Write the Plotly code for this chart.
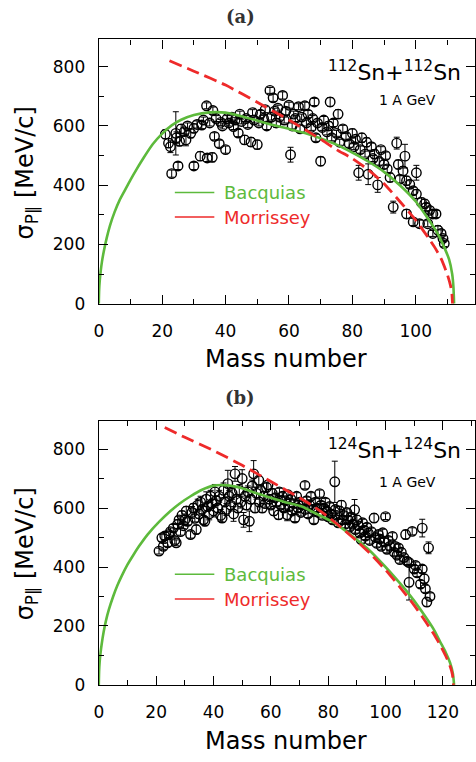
import plotly.graph_objects as go

W, H = 476, 762

# ---------------- Panel (a) : 112Sn + 112Sn ----------------
mass_a = [21, 22, 22.6, 23, 24.3, 24.5, 25, 25.5, 26, 27, 27.5, 28, 29, 30, 30, 31, 32, 32.5, 33, 34,
          34.2, 35, 35.8, 36, 36.5, 37, 38, 38.5, 39, 40, 40.5, 41, 42, 42.5, 43, 44, 44.5, 45, 46, 46.5,
          47, 48, 48.5, 49, 50, 50.5, 51, 52, 52.5, 53, 54, 54.5, 55, 55.5, 56, 56.5, 57, 58, 58.5, 59,
          60, 60.5, 61, 61.5, 62, 63, 63.5, 64, 65, 65.5, 66, 67, 67.5, 68, 68.5, 69, 70, 70.5, 71, 72,
          72.5, 73, 73.5, 74, 75, 75.5, 76, 77, 78, 79, 80, 80.5, 81, 82, 82.5, 83, 84, 84.5, 85, 86,
          86.5, 87, 88, 88.5, 89, 90, 90.5, 91, 91.9, 92.9, 94, 94.5, 95, 96, 96.6, 97.1, 97.1, 98.1,
          99.2, 99.2, 100.2, 100.2, 101.2, 101.8, 102.8, 103.3, 103.8, 104.4, 105.4, 105.4, 106.4, 107,
          108, 108.6, 109]
sigma_a = [572, 542, 530, 439, 575, 560, 465, 548, 590, 581, 553, 600, 575, 465, 592, 605, 498, 603, 620, 668,
           492, 610, 494, 652, 565, 625, 540, 612, 600, 520, 625, 610, 630, 598, 620, 576, 640, 615, 553, 625,
           605, 546, 645, 620, 537, 610, 640, 625, 655, 600, 720, 630, 695, 650, 610, 660, 630, 703, 620, 650,
           670, 503, 600, 640, 625, 665, 590, 630, 668, 610, 640, 595, 625, 681, 560, 610, 481, 595, 620, 580,
           600, 681, 560, 610, 575, 640, 545, 590, 565, 540, 575, 530, 555, 442, 520, 560, 505, 545, 437, 530,
           490, 505, 401, 480, 520, 470, 500, 455, 426, 326, 542, 470, 420, 448, 498, 415, 303, 403,
           381, 276, 370, 442, 270, 342, 337, 326, 270, 315, 303, 237, 303, 248,
           237, 220, 203]
err_a = [15, 15, 20, 12, 73, 20, 12, 15, 15, 12, 20, 10, 15, 12, 15, 12, 15, 12, 10, 10,
         12, 10, 15, 12, 12, 10, 12, 10, 10, 12, 10, 10, 10, 10, 8, 12, 10, 8, 15, 10,
         10, 15, 10, 10, 15, 10, 12, 10, 10, 12, 10, 10, 12, 10, 15, 10, 10, 12, 10, 12,
         10, 25, 10, 10, 10, 10, 12, 10, 12, 10, 12, 10, 10, 12, 12, 10, 15, 10, 12, 10,
         15, 15, 10, 12, 10, 15, 10, 12, 10, 12, 15, 10, 10, 25, 12, 15, 10, 15, 35, 12,
         10, 15, 25, 12, 10, 15, 12, 12, 15, 20, 20, 15, 12, 15, 40, 15, 15, 12,
         12, 12, 15, 25, 12, 15, 15, 12, 10, 12, 12, 10, 12, 15,
         12, 10, 10]

bacq_a_mass = [0, 0.1, 0.3, 0.6, 1, 1.6, 2.5, 3.5, 5, 6.5, 8, 10, 12, 14, 17, 20, 23, 26, 30, 35, 40,
               45, 50, 55, 60, 65, 70, 75, 80, 85, 90, 95, 100, 104, 107, 109, 110.5, 111.5, 111.9, 112.1]
bacq_a_sigma = [0, 45, 78, 110, 142, 178, 222, 263, 310, 348, 378, 418, 455, 490, 538, 574, 602, 621, 637, 646, 645,
                633, 618, 603, 590, 576, 558, 537, 510, 480, 445, 400, 345, 285, 235, 190, 150, 100, 55, 0]
morr_a_mass = [22.3, 30, 40, 50, 60, 65, 70, 75, 80, 85, 90, 95, 100, 104, 106, 108, 110, 111, 111.4, 111.6]
morr_a_sigma = [820, 785, 738, 680, 620, 588, 555, 520, 490, 452, 405, 345, 282, 222, 190, 152, 98, 60, 35, 0]

# ---------------- Panel (b) : 124Sn + 124Sn ----------------
mass_b = [21, 22, 22.5, 23, 24, 24.5, 25, 26, 26.5, 27, 27.5, 28, 28.5, 29, 29.5, 30, 30.5, 31, 32, 32.5,
          33, 33.5, 34, 34.5, 35, 35.5, 36, 36.5, 37, 37.5, 38, 38.5, 39, 39.5, 40, 40.5, 41, 41.5, 42, 42.5,
          43, 43.5, 44, 44.5, 45, 45.5, 46, 46.5, 47, 47.5, 48, 48.5, 49, 49.5, 50, 50.5, 51, 51.5, 52, 52.5,
          53, 53.5, 54, 54.5, 55, 55.8, 56, 56.5, 57, 57.5, 58, 58.5, 59, 59.5, 60, 60.5, 61, 61.5, 62, 62.7,
          63, 63.5, 64, 64.5, 65, 65.7, 66, 66.5, 67, 67.5, 68, 68.4, 69, 69.5, 70, 70.5, 71, 71.9, 72, 72.5,
          73, 73.5, 74, 74.5, 75, 75.5, 76, 76.5, 77, 77.5, 78, 78.5, 79, 79.5, 80, 80.5, 81, 81.5, 82.3, 82.5,
          83, 83.5, 84, 84.6, 85, 85.5, 86, 86.5, 87, 87.5, 88, 88.5, 89.2, 89.5, 90, 90.5, 91, 91.5, 92, 92.5,
          93, 93.5, 94, 94.5, 95, 96, 96.5, 97, 97.5, 98, 98.5, 99, 99.5, 100, 100.5, 101, 101.5, 102.4, 103, 103.4,
          104, 104.5, 105, 105.5, 106.4, 107, 107.5, 108.2, 108.2, 109.3, 110, 110.5, 111, 112.2, 112.8, 112.8, 113.5, 113.9,
          114.4, 115, 115.5]
sigma_b = [454, 499, 470, 505, 482, 510, 520, 532, 490, 482, 545, 560, 520, 575, 540, 560, 590, 555, 510, 585,
           600, 565, 527, 610, 580, 620, 595, 560, 555, 630, 605, 580, 640, 615, 590, 655, 625, 600, 640, 575,
           566, 660, 620, 595, 683, 640, 610, 650, 580, 716, 630, 600, 660, 620, 700, 560, 640, 610, 655, 555,
           630, 675, 716, 600, 650, 694, 620, 660, 600, 640, 615, 670, 678, 630, 610, 650, 590, 635, 620, 577,
           655, 610, 640, 600, 625, 577, 645, 605, 630, 590, 615, 566, 640, 600, 620, 585, 610, 677, 595, 625,
           580, 610, 640, 595, 560, 620, 600, 585, 649, 610, 575, 600, 620, 590, 570, 605, 580, 560, 689, 595,
           575, 550, 590, 610, 560, 575, 545, 585, 560, 535, 570, 545, 594, 527, 560, 540, 515, 493, 550, 525,
           505, 535, 515, 490, 520, 566, 500, 480, 510, 495, 470, 516, 485, 571, 460, 490, 470, 504, 450, 470,
           440, 465, 425, 450, 432, 510, 420, 415, 348, 521, 393, 405, 380, 342, 393, 532, 360, 326,
           281, 465, 300]
err_b = [10, 12, 10, 12, 12, 10, 12, 12, 12, 10, 15, 12, 12, 15, 10, 20, 15, 12, 12, 20,
         15, 12, 15, 20, 15, 20, 15, 15, 15, 25, 15, 20, 20, 15, 20, 25, 15, 15, 20, 20,
         15, 25, 15, 20, 45, 20, 20, 20, 25, 25, 15, 15, 20, 20, 30, 25, 15, 15, 20, 35,
         15, 20, 45, 15, 20, 15, 15, 15, 15, 15, 12, 15, 15, 15, 12, 15, 15, 12, 12, 15,
         12, 12, 12, 12, 12, 20, 12, 12, 12, 12, 12, 12, 12, 12, 12, 12, 12, 12, 12, 12,
         12, 12, 12, 12, 12, 12, 12, 12, 12, 12, 12, 12, 12, 12, 12, 12, 12, 12, 70, 12,
         12, 12, 15, 15, 12, 12, 12, 12, 12, 12, 12, 12, 35, 12, 15, 12, 12, 12, 12, 12,
         12, 12, 15, 12, 12, 15, 12, 12, 12, 12, 12, 12, 12, 10, 12, 12, 12, 12, 12, 12,
         12, 12, 12, 12, 12, 15, 12, 12, 60, 12, 12, 12, 12, 12, 12, 30, 15, 12,
         15, 20, 12]

bacq_b_mass = [0, 0.1, 0.3, 0.6, 1, 1.7, 2.5, 3.5, 5, 6.5, 8, 10, 12, 14, 17, 21, 25, 28, 32, 36, 40, 45, 50,
               55, 60, 65, 70.8, 76, 82.3, 88, 93.8, 100, 105, 107.7, 110, 114, 117, 119, 121, 122.5, 123.5, 123.9]
bacq_b_sigma = [0, 45, 78, 108, 138, 180, 218, 255, 300, 338, 370, 408, 440, 470, 510, 553, 590, 614, 640, 662, 676,
                677, 667, 650, 635, 620, 605, 580, 549, 508, 462, 400, 345, 314, 285, 230, 185, 147, 110, 75, 38, 0]
morr_b_mass = [23, 30, 40, 50, 60, 70, 75, 80, 85, 90, 95, 100, 105, 110, 114, 117, 119, 121, 122.5, 123.3, 123.7]
morr_b_sigma = [873, 840, 795, 745, 690, 635, 605, 570, 530, 488, 442, 390, 332, 270, 214, 170, 136, 98, 64, 36, 0]

GREEN = "#5dba3c"
RED = "#ee2a2a"
FONT = "DejaVu Sans"

fig = go.Figure()

def add_panel(xa, ya, mass, sig, err, bm, bs, mm, ms):
    fig.add_trace(go.Scatter(
        x=mass, y=sig, mode="markers", xaxis=xa, yaxis=ya,
        marker=dict(symbol="circle-open", size=9.5, color="black", line=dict(width=1.4, color="black")),
        error_y=dict(type="data", array=err, visible=True, color="black", thickness=1, width=3),
        showlegend=False))
    fig.add_trace(go.Scatter(
        x=bm, y=bs, mode="lines", xaxis=xa, yaxis=ya,
        line=dict(color=GREEN, width=2.6, shape="spline", smoothing=0.6), showlegend=False))
    fig.add_trace(go.Scatter(
        x=mm, y=ms, mode="lines", xaxis=xa, yaxis=ya,
        line=dict(color=RED, width=2.8, dash="13px,6px", shape="spline", smoothing=0.6), showlegend=False))

add_panel("x", "y", mass_a, sigma_a, err_a, bacq_a_mass, bacq_a_sigma, morr_a_mass, morr_a_sigma)
add_panel("x2", "y2", mass_b, sigma_b, err_b, bacq_b_mass, bacq_b_sigma, morr_b_mass, morr_b_sigma)

def py(p):
    return 1 - p / H

xdom = [95 / W, 1.0]
common = dict(showline=True, linecolor="black", linewidth=1.3, mirror="ticks",
              ticks="inside", ticklen=9, tickwidth=1.3, tickcolor="black",
              showgrid=False, zeroline=False,
              tickfont=dict(family=FONT, size=17, color="black"))
minor = dict(ticklen=5, ticks="inside", tickcolor="black", tickwidth=1.2)

fig.update_layout(
    width=W, height=H, margin=dict(l=0, r=0, t=0, b=0),
    paper_bgcolor="white", plot_bgcolor="white",
    xaxis=dict(domain=xdom, anchor="y", range=[0, 118.7], dtick=20, tick0=0,
               minor=dict(dtick=10, **minor), ticklabelstandoff=12, **common),
    yaxis=dict(domain=[py(307.7), py(40)], anchor="x", range=[0, 892], dtick=200, tick0=0,
               minor=dict(dtick=100, **minor), ticklabelstandoff=9, **common),
    xaxis2=dict(domain=xdom, anchor="y2", range=[0, 131.2], dtick=20, tick0=0,
                minor=dict(dtick=10, **minor), ticklabelstandoff=12, **common),
    yaxis2=dict(domain=[py(694), py(426.7)], anchor="x2", range=[0, 895], dtick=200, tick0=0,
                minor=dict(dtick=100, **minor), ticklabelstandoff=9, **common),
)

ann = []
def text(x, y, t, size, color="black", family=FONT, xanchor="center", angle=0):
    ann.append(dict(x=x / W, y=py(y), xref="paper", yref="paper", text=t, showarrow=False,
                    font=dict(family=family, size=size, color=color), xanchor=xanchor,
                    yanchor="middle", textangle=angle))

text(238, 17, "<b>(a)</b>", 18, color="#333333", family="DejaVu Serif")
text(238, 403, "<b>(b)</b>", 18, color="#333333", family="DejaVu Serif")

# panel a texts
text(325, 72, "<sup>112</sup>Sn+<sup>112</sup>Sn", 22, xanchor="left")
text(408, 101, "1 A GeV", 14)
text(220, 195, "Bacquias", 18, color=GREEN, xanchor="left")
text(220, 220, "Morrissey", 18, color=RED, xanchor="left")
text(285, 364, "Mass number", 24)
text(22, 175, "σ<sub>P∥</sub> [MeV/c]", 24, angle=-90)

# panel b texts
text(325, 455, "<sup>124</sup>Sn+<sup>124</sup>Sn", 22, xanchor="left")
text(408, 488, "1 A GeV", 14)
text(220, 582, "Bacquias", 18, color=GREEN, xanchor="left")
text(220, 607, "Morrissey", 18, color=RED, xanchor="left")
text(285, 751, "Mass number", 24)
text(22, 561, "σ<sub>P∥</sub> [MeV/c]", 24, angle=-90)

shapes = []
for (yy, col) in [(195, GREEN), (220, RED), (582, GREEN), (607, RED)]:
    shapes.append(dict(type="line", xref="paper", yref="paper", x0=172 / W, x1=212 / W,
                       y0=py(yy), y1=py(yy), line=dict(color=col, width=1.5)))

fig.update_layout(annotations=ann, shapes=shapes)
fig.write_html("out.html", config={"displayModeBar": False},
               post_script="document.body.style.margin='0px';document.body.style.overflow='hidden';")
